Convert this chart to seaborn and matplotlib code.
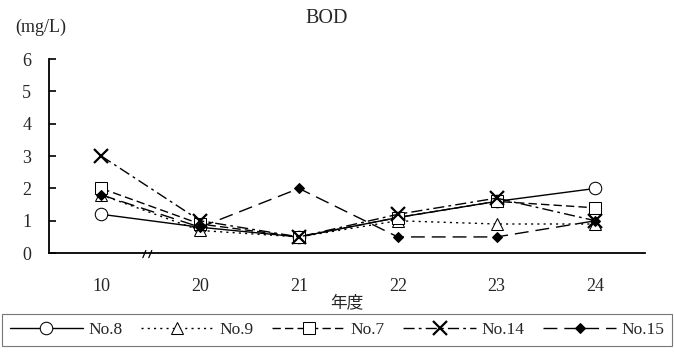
import matplotlib
matplotlib.use("Agg")
import matplotlib.pyplot as plt
import seaborn as sns
import pandas as pd

# Survey years (category labels on the x axis)
years = ["10", "20", "21", "22", "23", "24"]

# BOD values (mg/L) per sampling station
no8 = [1.2, 0.8, 0.5, 1.1, 1.6, 2.0]
no9 = [1.8, 0.7, 0.5, 1.0, 0.9, 0.9]
no7 = [2.0, 0.9, 0.5, 1.1, 1.6, 1.4]
no14 = [3.0, 1.0, 0.5, 1.2, 1.7, 1.0]
no15 = [1.8, 0.8, 2.0, 0.5, 0.5, 1.0]

station_names = ["No.8", "No.9", "No.7", "No.14", "No.15"]
station_values = [no8, no9, no7, no14, no15]

sns.set_theme(style="white")
plt.rcParams["font.family"] = ["Liberation Serif", "Noto Sans CJK JP"]

fig = plt.figure(figsize=(6.74, 3.58), dpi=100)
ax = fig.add_axes([0.0727, 0.293, 0.884, 0.542])

styles = {
    "No.8": dict(linestyle="-", marker="o", markersize=9, markerfacecolor="white"),
    "No.9": dict(linestyle=(0, (1.5, 3)), marker="^", markersize=9, markerfacecolor="white"),
    "No.7": dict(linestyle=(0, (6, 3)), marker="s", markersize=8, markerfacecolor="white"),
    "No.14": dict(linestyle=(0, (8, 3, 2, 3)), marker="x", markersize=10, markeredgewidth=1.6),
    "No.15": dict(linestyle=(0, (10, 5)), marker="D", markersize=5, markerfacecolor="black"),
}

for name, vals in zip(station_names, station_values):
    df = pd.DataFrame({"year": years, "bod": vals})
    st = styles[name]
    sns.lineplot(data=df, x="year", y="bod", ax=ax, color="black", lw=1.0,
                 markeredgecolor="black", label=name, sort=False, **st)

ax.set_ylim(0, 6)
ax.set_xlim(-0.53, 5.5)
ax.set_yticks(range(0, 7))
ax.tick_params(axis="y", left=True, direction="in", length=5, width=1.2,
               pad=16, labelsize=13, color="black")
ax.tick_params(axis="x", bottom=False, length=0, pad=18, labelsize=13)
for lab in ax.get_yticklabels():
    lab.set_horizontalalignment("center")
for side in ["top", "right"]:
    ax.spines[side].set_visible(False)
for side in ["left", "bottom"]:
    ax.spines[side].set_color("black")
    ax.spines[side].set_linewidth(1.3)

ax.set_xlabel("年度", fontsize=12, labelpad=0)
ax.set_ylabel("")
fig.text(0.061, 0.925, "(mg/L)", fontsize=13, ha="center", va="center")
fig.text(0.485, 0.948, "BOD", fontsize=14.5, ha="center", va="center")

# axis break mark between 10 and 20
for dx in (0.0, 0.06):
    ax.plot([0.42 + dx, 0.45 + dx], [-0.14, 0.08], color="black", lw=0.9, clip_on=False)

handles, labels = ax.get_legend_handles_labels()
leg = fig.legend(handles, labels, loc="lower left",
                 bbox_to_anchor=(0.003, 0.033, 0.994, 0.085), mode="expand", ncol=5,
                 fontsize=12.5, frameon=True, fancybox=False, handlelength=4.2,
                 columnspacing=0.6, handletextpad=0.3, borderpad=0.45, borderaxespad=0)
leg.get_frame().set_edgecolor("#555555")
leg.get_frame().set_linewidth(0.8)
if ax.get_legend():
    ax.get_legend().remove()

fig.savefig("out.png", dpi=100)
